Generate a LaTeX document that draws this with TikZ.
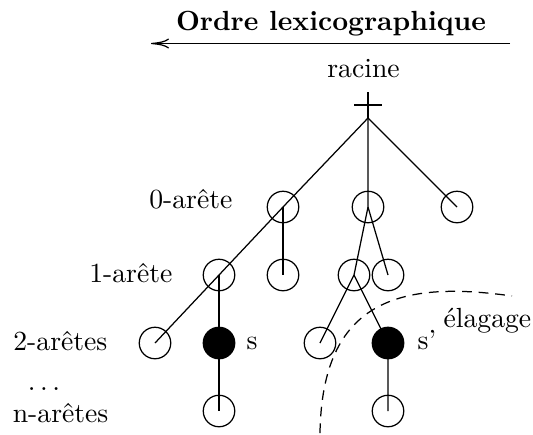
\documentclass[tikz,border=0pt]{standalone}
\usepackage{tikz}
\usetikzlibrary{arrows.meta}

\begin{document}
\begin{tikzpicture}[x=0.0127cm, y=-0.0127cm, line width=0.45pt,
    sommet/.style={draw, circle, minimum size=0.4cm, inner sep=0pt},
    marque/.style={sommet, fill=black},
    niveau/.style={anchor=base east, inner sep=0pt}]
    \useasboundingbox (0,0) rectangle (533,434);

    % Title and order arrow
    \node[anchor=base] (titre) at (331,30) {\textbf{Ordre lexicographique}};
    \coordinate (fin) at (151,43.5);
    \coordinate (debut) at (510,43.5);
    \draw[-{To[length=6.5pt,width=3.6pt]}] (debut) -- (fin);

    % Root cross
    \node[anchor=base] (lracine) at (363.5,77) {racine};
    \coordinate (root) at (368,118);
    \coordinate (haut) at (368,92);
    \coordinate (barreg) at (354,105);
    \coordinate (barred) at (382,105);
    \draw (haut) -- (root);
    \draw (barreg) -- (barred);

    % Nodes
    \node[sommet] (l0) at (283,207) {};
    \node[sommet] (m0) at (368,207) {};
    \node[sommet] (r0) at (457,207) {};
    \node[sommet] (l1a) at (219,275) {};
    \node[sommet] (l1b) at (283,275) {};
    \node[sommet] (m1a) at (354,275) {};
    \node[sommet] (m1b) at (388,275) {};
    \node[sommet] (l2a) at (155,343) {};
    \node[marque] (ls) at (219,343) {};
    \node[sommet] (m2a) at (320,343) {};
    \node[marque] (ms) at (388,343) {};
    \node[sommet] (ln) at (219,411) {};
    \node[sommet] (mn) at (388,411) {};

    % Edges
    \draw (root) -- (l0.center) -- (l1a.center) -- (l2a.center);
    \draw (l0.center) -- (l1b.center);
    \draw (l1a.center) -- (ls.center) -- (ln.center);
    \draw (root) -- (m0.center) -- (m1a.center) -- (m2a.center);
    \draw (m0.center) -- (m1b.center);
    \draw (m1a.center) -- (ms.center) -- (mn.center);
    \draw (root) -- (r0.center);

    % Pruning boundary
    \coordinate (cbas) at (320,433);
    \coordinate (cfin) at (512,296);
    \draw[dash pattern=on 3.5pt off 2.5pt] (cbas) .. controls (322,300) and (400,280) .. (cfin);

    % Labels
    \node[niveau] (n0) at (233,208) {0-arête};
    \node[niveau] (n1) at (173,282) {1-arête};
    \node[niveau] (n2) at (108,350) {2-arêtes};
    \node[anchor=base, inner sep=0pt] (pts) at (44,390) {$\ldots$};
    \node[niveau] (nn) at (109,422) {n-arêtes};
    \node[anchor=base west, inner sep=0pt] (es) at (246,349) {s};
    \node[anchor=base west, inner sep=0pt] (esp) at (417,349) {s'};
    \node[anchor=base west, inner sep=0pt] (elag) at (443,327) {élagage};
\end{tikzpicture}
\end{document}
